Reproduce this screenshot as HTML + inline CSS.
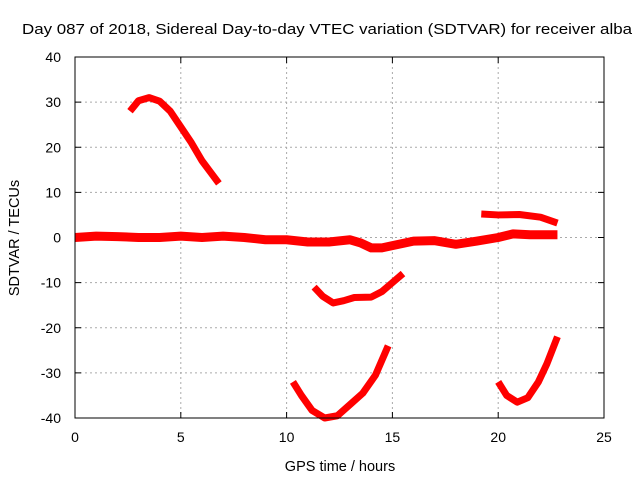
<!DOCTYPE html>
<html><head><meta charset="utf-8"><style>
body{margin:0;background:#fff;}
svg{display:block;font-family:"Liberation Sans",sans-serif;}
</style></head><body>
<svg id="chart" width="640" height="480">
<rect x="0" y="0" width="640" height="480" fill="#fff"/>
<text x="22" y="34" font-size="15" textLength="610" lengthAdjust="spacingAndGlyphs">Day 087 of 2018, Sidereal Day-to-day VTEC variation (SDTVAR) for receiver alba</text>
<g id="grid"></g>
<g id="ticks"></g>
<g id="series"></g>
<rect x="75" y="57" width="529" height="361" fill="none" stroke="#000" stroke-width="1"/>
<text x="340" y="471" font-size="14.5" text-anchor="middle">GPS time / hours</text>
<text transform="translate(19,238) rotate(-90)" font-size="14.5" text-anchor="middle">SDTVAR / TECUs</text>
</svg>
<script>
const xTicks=[0,5,10,15,20,25];
const yTicks=[-40,-30,-20,-10,0,10,20,30,40];
const arcA=[[2.6,28],[3.0,30.3],[3.5,31],[4.0,30.2],[4.5,28],[5.0,24.5],[5.5,21],[6.0,17],[6.4,14.5],[6.8,12]];
const band0=[[0,0],[1,0.3],[2,0.2],[3,0],[4,0],[5,0.3],[6,0],[7,0.3],[8,0],[9,-0.5],[10,-0.5],[11,-1],[12,-1],[13,-0.5],[13.5,-1.2],[14,-2.3],[14.5,-2.3],[15,-1.8],[16,-0.8],[17,-0.7],[18,-1.5],[19,-0.8],[20,0],[20.7,0.8],[21.5,0.6],[22.8,0.6]];
const arcB=[[11.3,-11],[11.7,-13],[12.2,-14.5],[12.7,-14],[13.2,-13.3],[14,-13.2],[14.5,-12],[15,-10],[15.5,-8]];
const arcC=[[10.3,-32],[10.7,-35],[11.2,-38.3],[11.8,-40],[12.4,-39.5],[13,-37],[13.6,-34.5],[14.2,-30.5],[14.8,-24]];
const arcD=[[20,-32],[20.4,-35],[20.9,-36.5],[21.4,-35.5],[21.9,-32],[22.3,-28],[22.8,-22]];
const arcE=[[19.2,5.2],[20,5],[21,5.1],[22,4.5],[22.8,3.2]];
const sx=v=>75+v*529/25, sy=v=>237.5-v*361/80;
const NS='http://www.w3.org/2000/svg';
const g=document.getElementById('grid'),t=document.getElementById('ticks'),s=document.getElementById('series');
function mk(tag,a,p){const e=document.createElementNS(NS,tag);for(const k in a)e.setAttribute(k,a[k]);p.appendChild(e);return e;}
xTicks.forEach(v=>{const x=sx(v);
 if(v>0&&v<25){const l=mk('line',{x1:x,x2:x,y1:57,y2:418,stroke:'#aaa','stroke-dasharray':'2,3'},g);}
 mk('line',{x1:x,x2:x,y1:418,y2:412,stroke:'#000'},t);mk('line',{x1:x,x2:x,y1:57,y2:63,stroke:'#000'},t);
 const tx=mk('text',{x:x,y:442,'font-size':14,'text-anchor':'middle'},t);tx.textContent=v;
 });
yTicks.forEach(v=>{const y=sy(v);
 if(v>-40&&v<40){const l=mk('line',{x1:75,x2:604,y1:y,y2:y,stroke:'#aaa','stroke-dasharray':'2,3'},g);}
 mk('line',{x1:75,x2:81,y1:y,y2:y,stroke:'#000'},t);mk('line',{x1:604,x2:598,y1:y,y2:y,stroke:'#000'},t);
 const tx=mk('text',{x:61,y:y+5,'font-size':14,'text-anchor':'end'},t);tx.textContent=v;
 });
[arcA,band0,arcB,arcC,arcD,arcE].forEach((d,i)=>{
 const p=mk('polyline',{points:d.map(q=>sx(q[0])+','+sy(q[1])).join(' '),fill:'none',stroke:'#f00','stroke-width':i===1?9:7,'stroke-linejoin':'round'},s);
 });
</script>
</body></html>
